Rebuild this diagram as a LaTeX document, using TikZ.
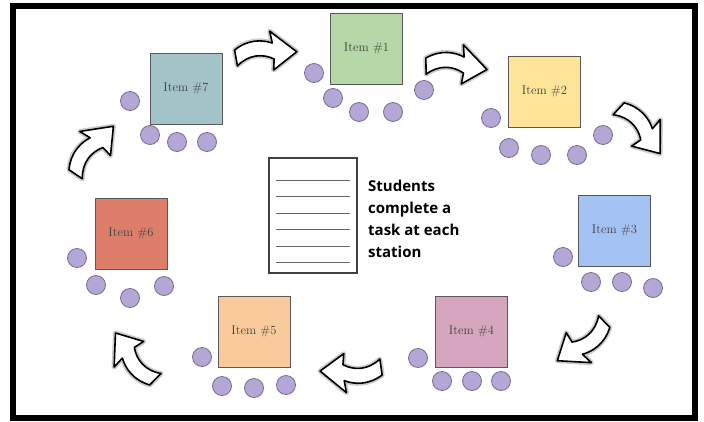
\documentclass[tikz,border=0pt]{standalone}
\usepackage{fontspec}
\newfontfamily\taskfont{Open Sans}
\definecolor{seatfill}{HTML}{B4A7D6}
\definecolor{seatline}{HTML}{776C92}
\definecolor{csev}{HTML}{A2C4C9}
\definecolor{cone}{HTML}{B6D7A8}
\definecolor{ctwo}{HTML}{FFE599}
\definecolor{cthree}{HTML}{A4C2F4}
\definecolor{cfour}{HTML}{D5A6BD}
\definecolor{cfive}{HTML}{F9CB9C}
\definecolor{csix}{HTML}{DD7E6B}
\begin{document}
\begin{tikzpicture}[x=1pt,y=-1pt,
  station/.style={draw=black!65, line width=0.8pt, minimum width=72pt, minimum height=71pt, inner sep=0pt,
    font=\rmfamily\fontsize{12.5}{14}\selectfont, text=black!75},
  seat/.style={circle, draw=seatline, fill=seatfill, line width=0.8pt, minimum size=19pt, inner sep=0pt},
  blockarrow/.pic={
    \path[draw=black!45, line width=5pt, opacity=0.45, line join=round]
      (0,-8) .. controls (14,-18) and (28,-17) .. (38,-13) -- (36,-25) -- (62,-3) -- (38,14) -- (39,3)
      .. controls (28,-3) and (14,-3) .. (2,8) -- cycle;
    \path[draw=black, fill=white, line width=1.6pt, line join=round]
      (0,-8) .. controls (14,-18) and (28,-17) .. (38,-13) -- (36,-25) -- (62,-3) -- (38,14) -- (39,3)
      .. controls (28,-3) and (14,-3) .. (2,8) -- cycle;
  }
]
\useasboundingbox (0,0) rectangle (704,421);
\fill[white] (0,0) rectangle (704,421);
\draw[line width=6pt] (13,6) rectangle (695,417.5);

% stations
\node[station, fill=csev]   (s7) at (186,88.5)  {Item \#7};
\node[station, fill=cone]   (s1) at (366.5,48.5) {Item \#1};
\node[station, fill=ctwo]   (s2) at (544.5,91.5) {Item \#2};
\node[station, fill=cthree] (s3) at (614.5,230.5) {Item \#3};
\node[station, fill=cfour]  (s4) at (471.5,331.5) {Item \#4};
\node[station, fill=cfive]  (s5) at (254,331.5)  {Item \#5};
\node[station, fill=csix]   (s6) at (131,233.5)  {Item \#6};

% seats
\foreach \n/\p in {a/{130,101}, b/{150,135}, c/{177,142}, d/{207,142},
                   e/{314,73}, f/{333,98}, g/{359,112}, h/{393,112}, i/{424,90},
                   j/{491,118}, k/{509,148}, l/{541,155}, m/{577,155}, n/{603,135},
                   o/{563,257}, p/{591,282}, q/{622,282}, r/{653,288},
                   s/{418,358}, t/{442,381}, u/{472,381}, v/{501,381},
                   w/{202,357}, x/{222,386}, y/{254,388}, z/{286,385},
                   A/{77,258}, B/{96,285}, C/{130,298}, D/{164,286}}
  \node[seat] (seat\n) at (\p) {};

% arrows
\coordinate (ar1) at (235,58);
\coordinate (ar2) at (425,66);
\coordinate (ar3) at (618,108);
\coordinate (ar4) at (605,321);
\coordinate (ar5) at (382,367);
\coordinate (ar6) at (156,380);
\coordinate (ar7) at (75,175);
\path (ar1) pic[rotate=3] {blockarrow};
\path (ar2) pic[rotate=-6] {blockarrow};
\path (ar3) pic[rotate=-50] {blockarrow};
\path (ar4) pic[rotate=-143] {blockarrow};
\path (ar5) pic[rotate=-179] {blockarrow};
\path (ar6) pic[rotate=128] {blockarrow};
\path (ar7) pic[rotate=49] {blockarrow};

% task sheet
\node[draw=black!75, line width=1.2pt, minimum width=88pt, minimum height=115pt, inner sep=0pt] (doc) at (313,215.5) {};
\foreach \yy in {180,196.5,213,229.5,246,262.5}
  \draw[black!60, line width=1pt] ([xshift=8pt]doc.west |- 0,\yy) -- ([xshift=-8pt]doc.east |- 0,\yy);
\node[anchor=north west, align=left, inner sep=0pt,
      font=\taskfont\bfseries\fontsize{15}{22}\selectfont] (task) at (368,180)
  {Students\\complete a\\task at each\\station};
\end{tikzpicture}
\end{document}
